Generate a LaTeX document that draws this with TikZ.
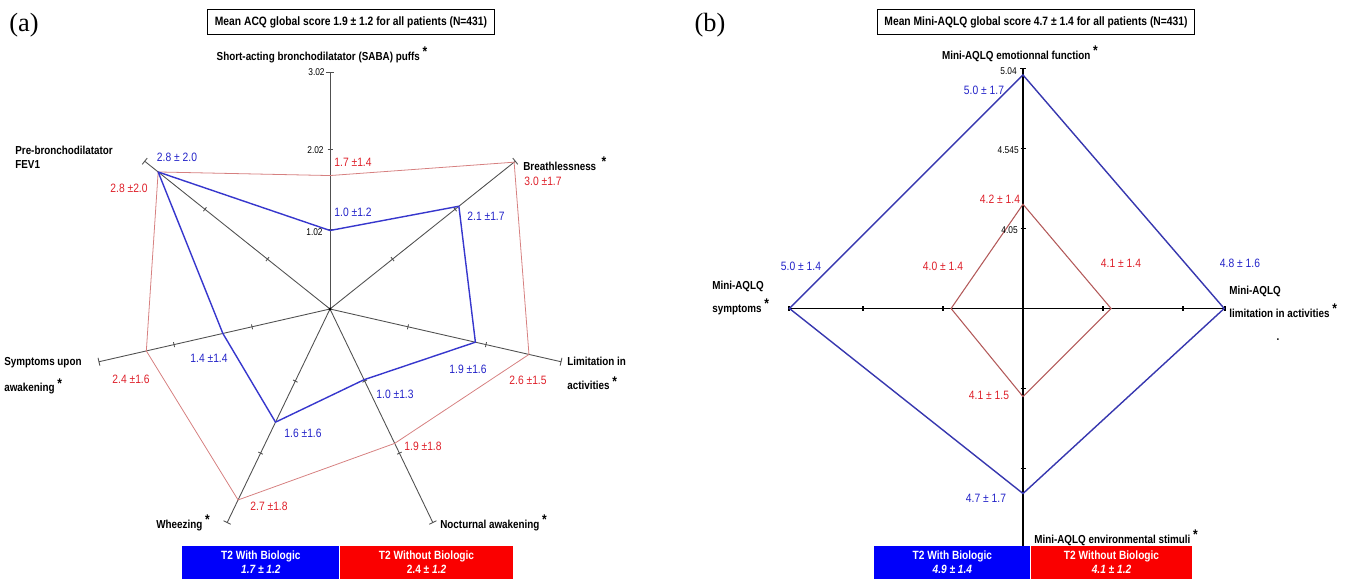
\documentclass[tikz,border=0pt]{standalone}
\usepackage{fontspec}
\setmainfont{Liberation Sans}[FakeStretch=0.85]
\newfontfamily\panelfont{Liberation Serif}
\usepackage{xcolor}
\usetikzlibrary{positioning}

\definecolor{polyblue}{RGB}{55,55,205}
\definecolor{polyred}{RGB}{214,128,128}
\definecolor{txtblue}{RGB}{35,35,200}
\definecolor{txtred}{RGB}{222,32,42}
\definecolor{axisgray}{RGB}{80,80,80}
\definecolor{diamblue}{RGB}{55,55,175}
\definecolor{diamred}{RGB}{178,88,88}
\definecolor{legblue}{RGB}{0,0,250}
\definecolor{legred}{RGB}{250,0,0}

\newcommand{\pstar}{\raisebox{2.2pt}{\fontsize{8}{8}\selectfont *}}

\begin{document}
\begin{tikzpicture}[
	x = 0.02cm, y = 0.02cm,
	every node/.style = {inner sep = 0pt, font = \fontsize{6.6}{7.6}\selectfont\bfseries},
	axislabel/.style = {align = left},
	bluevalue/.style = {text = txtblue, font = \fontsize{6.9}{8}\selectfont},
	redvalue/.style = {text = txtred, font = \fontsize{6.9}{8}\selectfont},
	ticklabel/.style = {anchor = east, font = \fontsize{5.6}{6}\selectfont},
	titlebox/.style = {draw, line width = 0.6pt, inner xsep = 4pt, inner ysep = 3.8pt,
		font = \fontsize{6.9}{8}\selectfont\bfseries},
	legendbox/.style = {fill = #1, text = white, align = center, anchor = south west,
		minimum height = 0.66cm, font = \fontsize{6.8}{8}\selectfont\bfseries},
	spoke/.style = {draw = axisgray, line width = 0.5pt},
	bluepoly/.style = {draw = polyblue, line width = 0.8pt, line join = round},
	redpoly/.style = {draw = polyred, line width = 0.45pt, line join = round},
	cross/.style = {draw = black, line width = 0.75pt},
	bluediam/.style = {draw = diamblue, line width = 0.8pt},
	reddiam/.style = {draw = diamred, line width = 0.6pt}
	]
	\useasboundingbox (0,0) rectangle (1347,579);

	% (a) ACQ radar
	\node[font = \panelfont\fontsize{15}{15}\selectfont] (pa) at (24,554) {(a)};
	\node[titlebox] (ta) at (351,557) {Mean ACQ global score 1.9 ± 1.2 for all patients (N=431)};
	\coordinate (ca) at (330,270);
	\foreach \ang/\nm in {90/saba, 38.57/breath, -12.86/limit, -64.29/noct,
		-115.71/wheeze, -167.14/sympt, 141.43/fev}{
		\coordinate (\nm) at ([shift={(\ang:237)}]ca);
		\draw[spoke] (ca) -- (\nm);
		\draw[spoke] (\nm) ++({\ang+90}:4) -- ++({\ang-90}:8);
		\foreach \r in {80,160}
			\draw[spoke] ([shift={(\ang:\r)}]ca) ++({\ang+90}:2.5) -- ++({\ang-90}:5);
	}
	\fill[black] (ca) circle (1.6);
	\foreach \ang/\v [count=\i] in {90/1.7, 38.57/3.0, -12.86/2.6, -64.29/1.9,
		-115.71/2.7, -167.14/2.4, 141.43/2.8}
		\coordinate (ra\i) at ([shift={(\ang:{\v*78.5})}]ca);
	\foreach \ang/\v [count=\i] in {90/1.0, 38.57/2.1, -12.86/1.9, -64.29/1.0,
		-115.71/1.6, -167.14/1.4, 141.43/2.8}
		\coordinate (ba\i) at ([shift={(\ang:{\v*78.5})}]ca);
	\draw[redpoly] (ra1) -- (ra2) -- (ra3) -- (ra4) -- (ra5) -- (ra6) -- (ra7) -- cycle;
	\draw[bluepoly] (ba1) -- (ba2) -- (ba3) -- (ba4) -- (ba5) -- (ba6) -- (ba7) -- cycle;

	\node[ticklabel] (t3a) at (325,507) {3.02};
	\node[ticklabel] (t2a) at (324,429) {2.02};
	\node[ticklabel] (t1a) at (323,347) {1.02};

	\node (lsaba) at (322,524) {Short-acting bronchodilatator (SABA) puffs \pstar};
	\node[axislabel, anchor = north west] (lfev) at (15,433) {Pre-bronchodilatator\\FEV1};
	\node[anchor = west] (lbreath) at (523,415) {Breathlessness~~\pstar};
	\node[axislabel, anchor = north west] (lsympt) at (4,222) {Symptoms upon\\[5pt]awakening \pstar};
	\node[axislabel, anchor = north west] (llimit) at (567,222) {Limitation in\\[5pt]activities \pstar};
	\node[anchor = west] (lwheeze) at (156,56) {Wheezing \pstar};
	\node[anchor = west] (lnoct) at (440,56) {Nocturnal awakening \pstar};

	\node[bluevalue] (vb1) at (353,367) {1.0 ±1.2};
	\node[bluevalue] (vb2) at (486,363) {2.1 ±1.7};
	\node[bluevalue] (vb3) at (468,210) {1.9 ±1.6};
	\node[bluevalue] (vb4) at (395,185) {1.0 ±1.3};
	\node[bluevalue] (vb5) at (303,146) {1.6 ±1.6};
	\node[bluevalue] (vb6) at (209,221) {1.4 ±1.4};
	\node[bluevalue] (vb7) at (177,422) {2.8 ± 2.0};
	\node[redvalue] (vr1) at (353,417) {1.7 ±1.4};
	\node[redvalue] (vr2) at (543,398) {3.0 ±1.7};
	\node[redvalue] (vr3) at (528,199) {2.6 ±1.5};
	\node[redvalue] (vr4) at (423,133) {1.9 ±1.8};
	\node[redvalue] (vr5) at (269,73) {2.7 ±1.8};
	\node[redvalue] (vr6) at (131,200) {2.4 ±1.6};
	\node[redvalue] (vr7) at (129,391) {2.8 ±2.0};

	\node[legendbox = legblue, minimum width = 3.14cm] (lega1) at (182,0)
		{T2 With Biologic\\\textit{1.7 ± 1.2}};
	\node[legendbox = legred, minimum width = 3.46cm] (lega2) at (lega1.south east)
		{T2 Without Biologic\\2.4 ± \textit{1.2}};

	% (b) Mini-AQLQ radar
	\node[font = \panelfont\fontsize{15}{15}\selectfont] (pb) at (710,554) {(b)};
	\node[titlebox] (tb) at (1036,557) {Mean Mini-AQLQ global score 4.7 ± 1.4 for all patients (N=431)};
	\coordinate (cb) at (1023,270.5);
	\coordinate (emo) at ([shift={(90:240)}]cb);
	\coordinate (envr) at ([shift={(-90:240)}]cb);
	\coordinate (symp) at ([shift={(180:234)}]cb);
	\coordinate (lim) at ([shift={(0:202)}]cb);
	\draw[cross] (envr) -- (emo);
	\draw[cross] (symp) -- (lim);
	\draw[cross] (emo) ++(-3,0) -- ++(6,0);
	\foreach \r in {80,160}{
		\draw[cross] ([shift={(90:\r)}]cb) ++(-2.5,0) -- ++(5,0);
		\draw[cross] ([shift={(-90:\r)}]cb) ++(-2.5,0) -- ++(5,0);
		\draw[cross] ([shift={(0:\r)}]cb) ++(0,-2.5) -- ++(0,5);
		\draw[cross] ([shift={(180:\r)}]cb) ++(0,-2.5) -- ++(0,5);
	}
	\draw[cross] (symp) ++(0,-2.5) -- ++(0,5);
	\draw[cross] (lim) ++(0,-2.5) -- ++(0,5);
	\foreach \ang/\v [count=\i] in {90/4.2, 0/4.1, -90/4.1, 180/4.0}
		\coordinate (rb\i) at ([shift={(\ang:{(\v-3.555)*161.6})}]cb);
	\foreach \ang/\v [count=\i] in {90/5.0, 0/4.8, -90/4.7, 180/5.0}
		\coordinate (bb\i) at ([shift={(\ang:{(\v-3.555)*161.6})}]cb);
	\draw[reddiam] (rb1) -- (rb2) -- (rb3) -- (rb4) -- cycle;
	\draw[bluediam] (bb1) -- (bb2) -- (bb3) -- (bb4) -- cycle;

	\node[ticklabel] (t3b) at (1017,508) {5.04};
	\node[ticklabel] (t2b) at (1019,429) {4.545};
	\node[ticklabel] (t1b) at (1018,349) {4.05};

	\node (lemo) at (1020,525) {Mini-AQLQ emotionnal function \pstar};
	\node[axislabel, anchor = north west] (lsymp) at (712,298) {Mini-AQLQ\\[3pt]symptoms \pstar};
	\node[axislabel, anchor = north west] (llim) at (1229,293) {Mini-AQLQ\\[3pt]limitation in activities \pstar};
	\node[anchor = west] (lenv) at (1034,41) {Mini-AQLQ environmental stimuli \pstar};
	\node (stray) at (1278,239) {.};

	\node[bluevalue] (wb1) at (984,489) {5.0 ± 1.7};
	\node[bluevalue] (wb2) at (1240,316) {4.8 ± 1.6};
	\node[bluevalue] (wb3) at (986,81) {4.7 ± 1.7};
	\node[bluevalue] (wb4) at (801,313) {5.0 ± 1.4};
	\node[redvalue] (wr1) at (1000,380) {4.2 ± 1.4};
	\node[redvalue] (wr2) at (1121,316) {4.1 ± 1.4};
	\node[redvalue] (wr3) at (989,184) {4.1 ± 1.5};
	\node[redvalue] (wr4) at (943,313) {4.0 ± 1.4};

	\node[legendbox = legblue, minimum width = 3.12cm] (legb1) at (874,0)
		{T2 With Biologic\\\textit{4.9 ± 1.4}};
	\node[legendbox = legred, minimum width = 3.22cm] (legb2) at (legb1.south east)
		{T2 Without Biologic\\\textit{4.1 ± 1.2}};
\end{tikzpicture}
\end{document}
